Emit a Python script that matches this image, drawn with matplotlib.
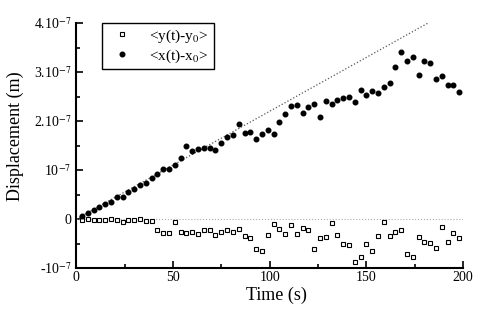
import matplotlib
matplotlib.use("Agg")
import matplotlib.pyplot as plt
import numpy as np

plt.rcParams['font.family'] = ['Liberation Serif', 'DejaVu Serif']
plt.rcParams['mathtext.fontset'] = 'stix'

# time samples (s), every 3 s
t = np.arange(1, 67) * 3.0

# <x(t)-x0> in units of 1e-7 m
x_disp = [0.06, 0.12, 0.19, 0.24, 0.31, 0.35, 0.44, 0.45, 0.56, 0.62,
          0.70, 0.74, 0.83, 0.92, 1.02, 1.02, 1.10, 1.25, 1.50, 1.38,
          1.42, 1.45, 1.45, 1.41, 1.55, 1.67, 1.72, 1.95, 1.76, 1.78,
          1.63, 1.74, 1.81, 1.74, 1.98, 2.14, 2.31, 2.33, 2.17, 2.29,
          2.34, 2.09, 2.40, 2.34, 2.44, 2.48, 2.49, 2.38, 2.63, 2.54,
          2.62, 2.57, 2.70, 2.77, 3.11, 3.40, 3.23, 3.30, 2.95, 3.23,
          3.18, 2.85, 2.91, 2.74, 2.74, 2.60]

# <y(t)-y0> in units of 1e-7 m
y_disp = [-0.01, 0.01, -0.01, -0.01, -0.02, 0.00, -0.02, -0.06, -0.02, -0.03,
          0.00, -0.05, -0.05, -0.23, -0.29, -0.29, -0.07, -0.27, -0.29, -0.27,
          -0.31, -0.22, -0.22, -0.33, -0.27, -0.22, -0.27, -0.20, -0.35, -0.39,
          -0.62, -0.65, -0.32, -0.11, -0.20, -0.31, -0.12, -0.31, -0.18, -0.22,
          -0.61, -0.39, -0.37, -0.08, -0.33, -0.52, -0.53, -0.88, -0.78, -0.50,
          -0.66, -0.35, -0.07, -0.34, -0.26, -0.22, -0.71, -0.78, -0.37, -0.47,
          -0.48, -0.60, -0.16, -0.46, -0.29, -0.39]

# linear fit through origin
fit_slope = 2.2e-9   # m/s
t_fit = np.array([0.0, 182.0])

ytick_vals = [-1e-7, 0, 1e-7, 2e-7, 3e-7, 4e-7]
ytick_labels = [r'-10$^{-7}$', '0', r'10$^{-7}$', r'2.10$^{-7}$',
                r'3.10$^{-7}$', r'4.10$^{-7}$']

x_disp = np.array(x_disp) * 1e-7
y_disp = np.array(y_disp) * 1e-7

fig = plt.figure(figsize=(4.85, 3.12), dpi=100)
ax = fig.add_axes([0.157, 0.141, 0.798, 0.785])

ax.plot([0, 200], [0, 0], ls=':', color='#aaaaaa', lw=0.8)
ax.plot(t_fit, fit_slope * t_fit, ls=':', color='#555555', lw=0.9)
ax.plot(t, y_disp, 's', ms=3.0, mfc='white', mec='black', mew=0.8,
        label=r'<y(t)-y$_0$>')
ax.plot(t, x_disp, 'o', ms=3.3, color='black', label=r'<x(t)-x$_0$>')

ax.set_xlim(0, 200)
ax.set_ylim(-1e-7, 4e-7)
ax.set_xticks([0, 50, 100, 150, 200])
ax.set_xticks([25, 75, 125, 175], minor=True)
ax.set_yticks(ytick_vals)
ax.set_yticks([-0.5e-7, 0.5e-7, 1.5e-7, 2.5e-7, 3.5e-7], minor=True)
ax.set_yticklabels(ytick_labels)
ax.tick_params(which='both', direction='in', labelsize=10, width=1.2)
ax.tick_params(which='major', length=5)
ax.tick_params(which='minor', length=3)
ax.tick_params(axis='x', pad=2)

for s in ['top', 'right']:
    ax.spines[s].set_visible(False)
for s in ['left', 'bottom']:
    ax.spines[s].set_linewidth(1.5)

ax.set_xlabel('Time (s)', fontsize=13)
ax.set_ylabel('Displacement (m)', fontsize=13)
ax.xaxis.set_label_coords(0.517, -0.075)
ax.yaxis.set_label_coords(-0.135, 0.54)

leg = ax.legend(loc='upper left', bbox_to_anchor=(0.067, 1.0), fontsize=11,
                fancybox=False, edgecolor='black', framealpha=1,
                borderaxespad=0, handletextpad=0.8, borderpad=0.3,
                labelspacing=0.15, numpoints=1)
leg.get_frame().set_linewidth(1.0)

fig.savefig('out.png', dpi=100)
